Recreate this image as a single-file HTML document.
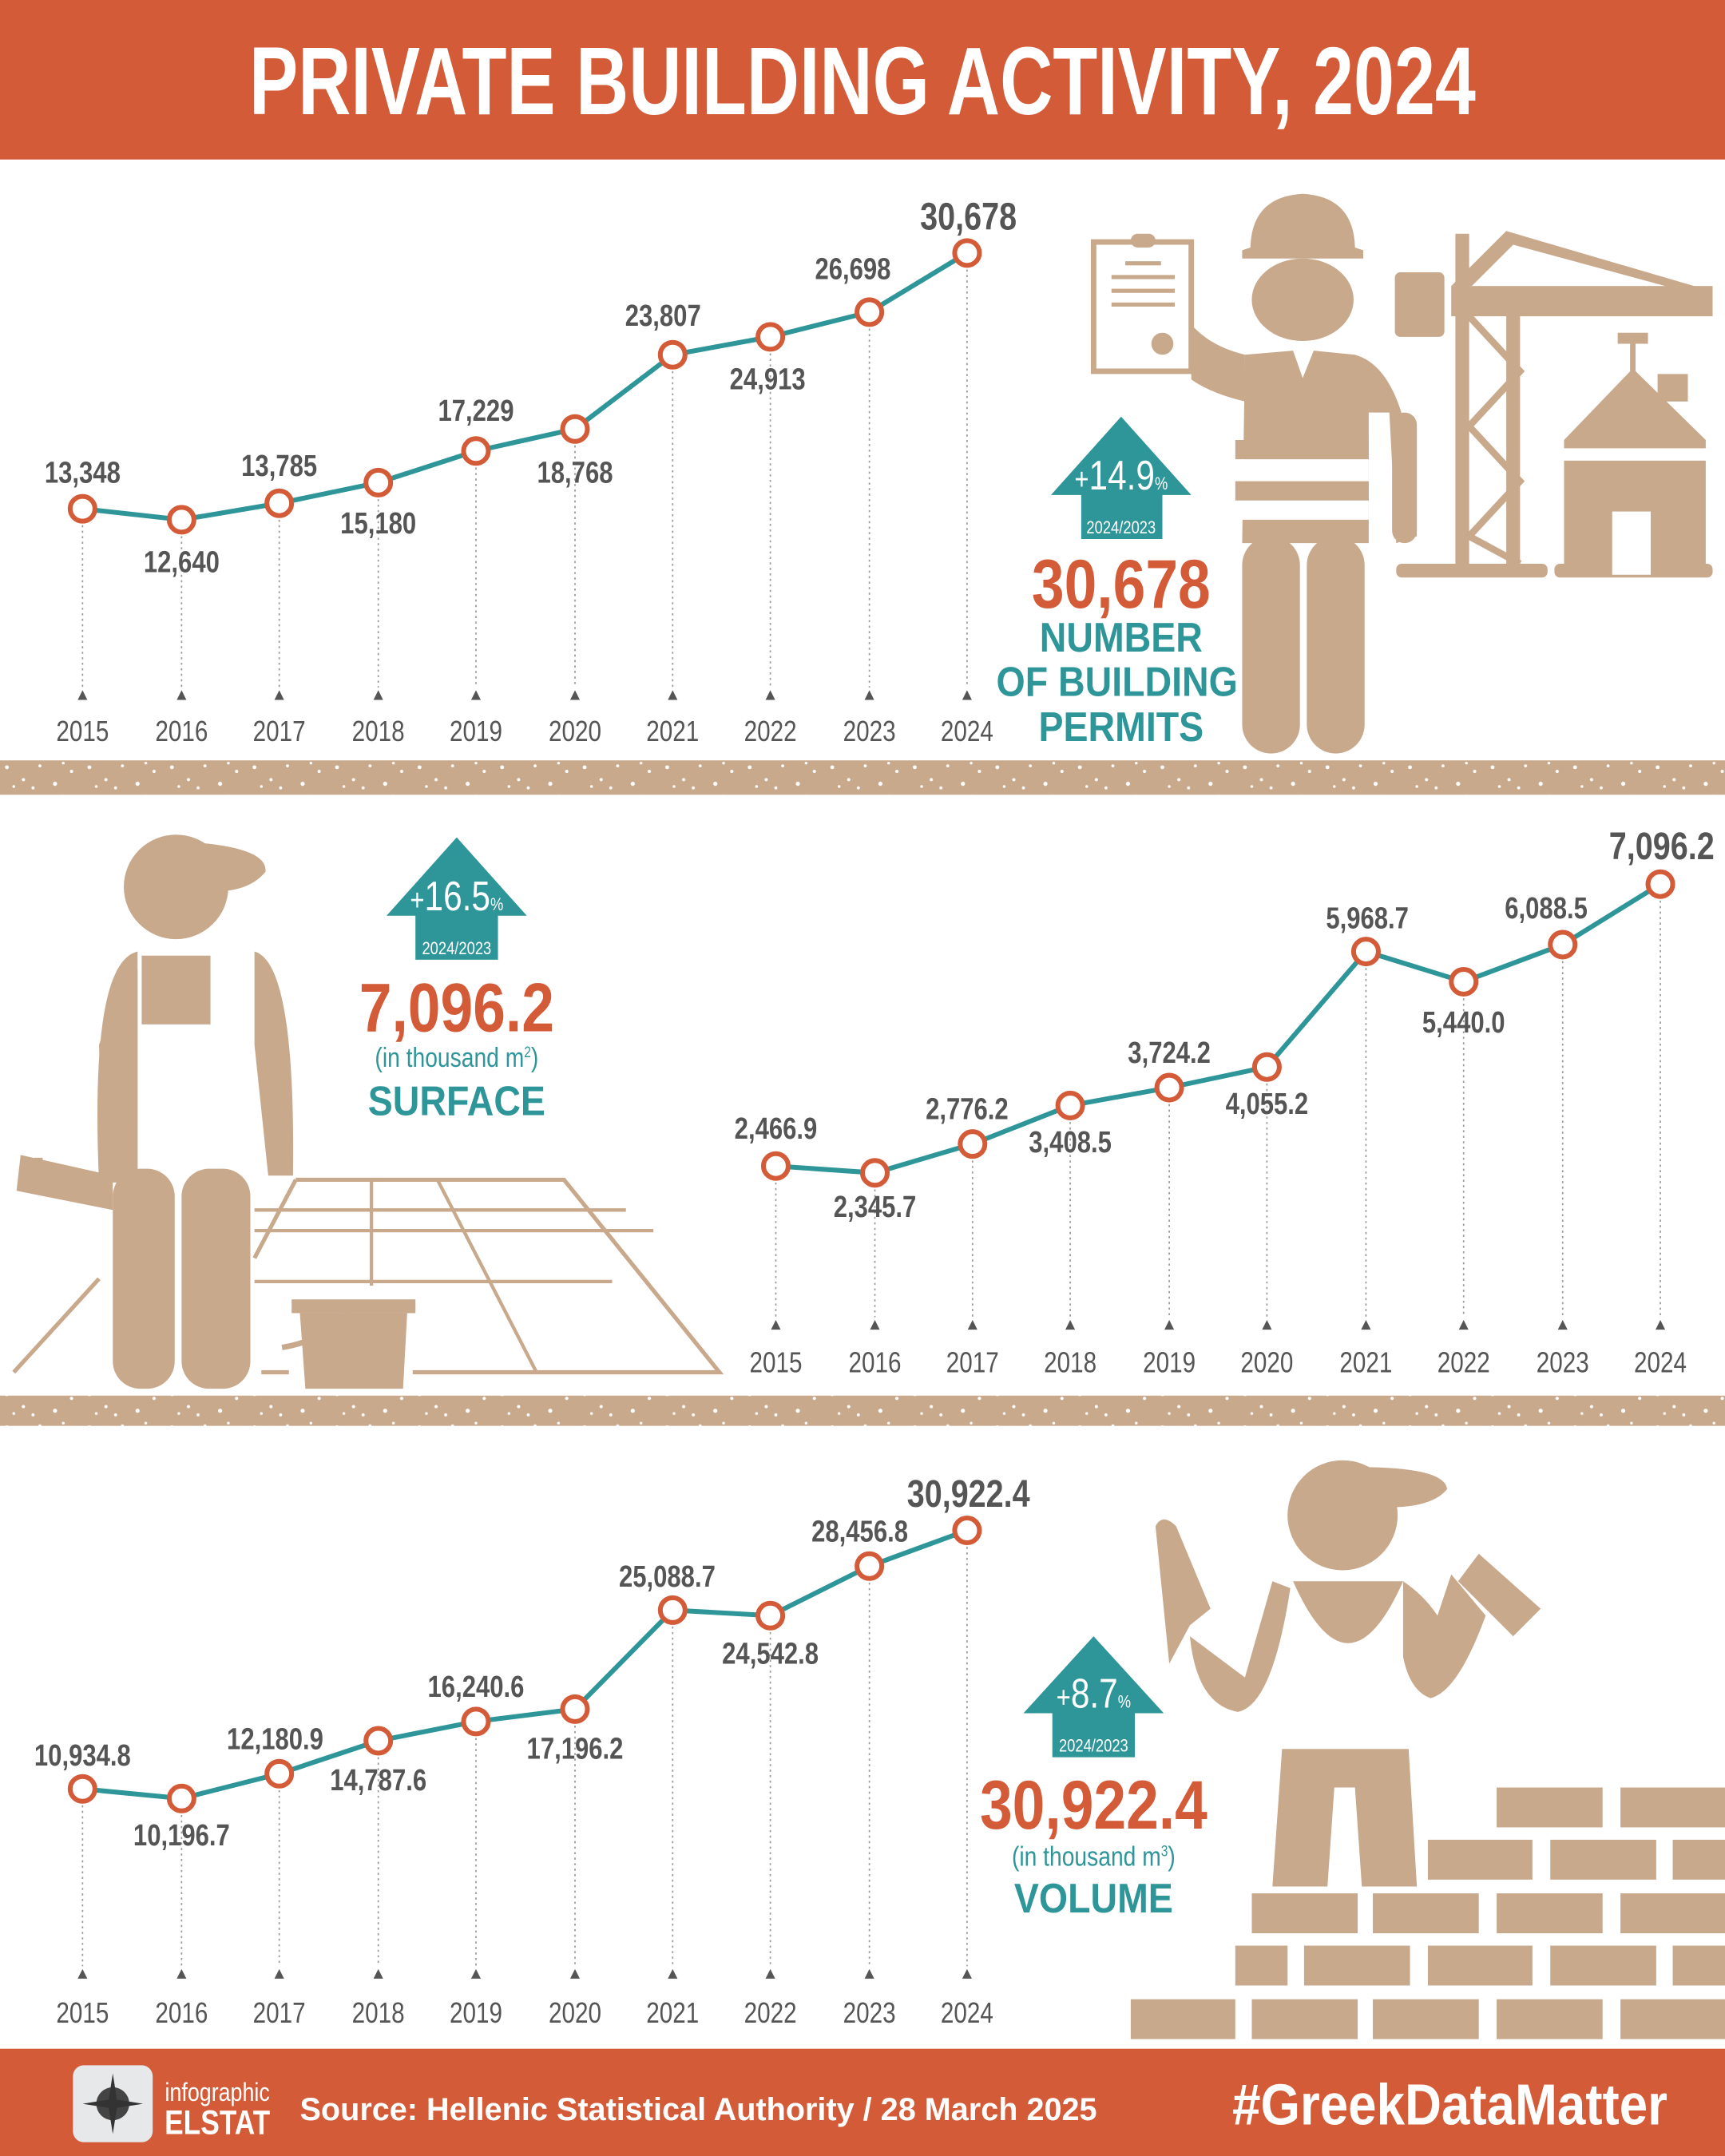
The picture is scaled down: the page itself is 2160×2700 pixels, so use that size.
<!DOCTYPE html>
<html><head><meta charset="utf-8"><style>
html,body{margin:0;padding:0;background:#fff}
svg{display:block}
.n{font-family:"Liberation Sans Narrow","Liberation Sans",sans-serif}
text{transform-box:fill-box;transform-origin:center;transform:scaleX(.82)}
text.t{transform:scaleX(.76)}
text.big{transform:scaleX(.85)}
text.f{transform:none}
text.h{transform:scaleX(.88)}
text.c{transform:scaleX(.9)}
</style></head><body>
<svg width="2160" height="2700" viewBox="0 0 1254 1568" preserveAspectRatio="none" xmlns="http://www.w3.org/2000/svg" class="n">
<defs>
<pattern id="grav" width="60" height="24" patternUnits="userSpaceOnUse">
<rect width="60" height="24" fill="#C8A98C"/>
<circle cx="5" cy="6" r="1.4" fill="#fff"/><circle cx="17" cy="15" r="1.2" fill="#fff"/>
<circle cx="29" cy="5" r="1.1" fill="#fff"/><circle cx="40" cy="18" r="1.5" fill="#fff"/>
<circle cx="52" cy="9" r="1.2" fill="#fff"/><circle cx="10" cy="20" r="1" fill="#fff"/>
<circle cx="46" cy="3" r="1" fill="#fff"/><circle cx="24" cy="21" r="1.1" fill="#fff"/>
</pattern>
</defs>
<rect x="0" y="0" width="1254" height="116" fill="#D45B38"/>
<text class="t" x="627" y="83" text-anchor="middle" font-size="70" font-weight="bold" fill="#fff">PRIVATE BUILDING ACTIVITY, 2024</text>

<rect x="0" y="553" width="1254" height="25" fill="url(#grav)"/>
<rect x="0" y="1015" width="1254" height="22" fill="url(#grav)"/>

<rect x="0" y="1490" width="1254" height="78" fill="#D45B38"/>
<rect x="53" y="1502" width="58" height="56" rx="8" fill="#E6E8EA"/>
<circle cx="82" cy="1530" r="12" fill="#444"/>
<path d="M82 1508 L85 1527 L104 1530 L85 1533 L82 1552 L79 1533 L60 1530 L79 1527Z" fill="#333"/>
<text x="158" y="1528" text-anchor="middle" font-size="19" fill="#fff">infographic</text>
<text x="158" y="1552" text-anchor="middle" font-size="25" font-weight="bold" fill="#fff">ELSTAT</text>
<text class="f" x="218" y="1542" font-size="23" font-weight="bold" fill="#fff">Source: Hellenic Statistical Authority / 28 March 2025</text>
<text class="h" x="1054" y="1545" text-anchor="middle" font-size="42" font-weight="bold" fill="#fff">#GreekDataMatter</text>

<g fill="#C8A98C">
<rect x="795" y="176" width="71" height="94" fill="none" stroke="#C8A98C" stroke-width="4"/>
<rect x="822" y="170" width="18" height="10" rx="5"/>
<rect x="808" y="200" width="46" height="3"/><rect x="808" y="210" width="46" height="3"/><rect x="808" y="220" width="46" height="3"/><rect x="818" y="190" width="26" height="3"/>
<circle cx="845" cy="250" r="8"/>
<path d="M866 236 Q880 252 905 258 L905 292 Q880 286 866 276Z"/>
<path d="M909 180 Q910 143 947 141 Q984 143 985 180 L991 182 L991 188 L903 188 L903 182Z"/>
<ellipse cx="947" cy="218" rx="37" ry="30"/>
<path d="M905 258 L940 255 L947 275 L955 255 L985 258 Q1028 270 1030 390 L1015 395 L1010 300 L995 300 L995 395 L903 395Z"/>
<rect x="1012" y="300" width="18" height="95" rx="9"/>
<rect x="903" y="390" width="42" height="158" rx="21"/>
<rect x="950" y="390" width="42" height="158" rx="21"/>
<path d="M898 320 L995 320 L995 334 L898 334Z M898 350 L995 350 L995 364 L898 364Z" fill="#C8A98C"/>
<path d="M903 334 L995 334 L995 350 L903 350Z M903 364 L995 364 L995 378 L903 378Z" fill="#fff"/>
<rect x="1014" y="198" width="36" height="47" rx="4"/>
<rect x="1055" y="208" width="190" height="22"/>
<path d="M1055 208 L1095 168 L1245 212 L1240 216 L1100 178 L1070 208Z"/>
<path d="M1058 170 L1068 170 L1068 410 L1058 410Z M1095 230 L1105 230 L1105 410 L1095 410Z"/>
<path d="M1068 230 L1105 270 L1068 310 L1105 350 L1068 390 L1105 410" fill="none" stroke="#C8A98C" stroke-width="5"/>
<rect x="1015" y="410" width="110" height="10" rx="4"/>
<rect x="1130" y="410" width="115" height="10" rx="4"/>
<rect x="1185" y="245" width="4" height="25"/><rect x="1176" y="242" width="22" height="8"/>
<path d="M1187 268 L1240 320 L1240 326 L1137 326 L1137 320Z"/>
<rect x="1205" y="272" width="22" height="20"/>
<rect x="1137" y="335" width="103" height="82"/>
<rect x="1172" y="372" width="28" height="46" fill="#fff"/>

<circle cx="128" cy="645" r="38"/>
<path d="M130 612 Q195 615 193 634 Q180 650 150 648 Q135 640 130 612Z"/>
<path d="M72 860 Q65 700 100 692 L100 860 Z"/>
<path d="M185 692 Q215 700 213 855 L195 855 L185 760Z"/>
<rect x="103" y="695" width="50" height="50"/>
<path d="M90 705 L100 705 L100 850 L75 860 L72 760Z"/>
<rect x="82" y="850" width="45" height="160" rx="20"/>
<rect x="132" y="850" width="50" height="160" rx="20"/>
<path d="M15 840 L82 855 L82 880 L12 866Z"/>
<rect x="25" y="842" width="6" height="20"/>
<path d="M215 858 L410 858 L523 998 L300 998 M10 998 L72 930 M190 998 L210 998 M215 858 L185 915" fill="none" stroke="#C8A98C" stroke-width="3"/>
<path d="M185 880 L455 880 M185 895 L475 895 M185 932 L445 932 M270 858 L270 935 M318 858 L390 998" fill="none" stroke="#C8A98C" stroke-width="2.5"/>
<rect x="212" y="945" width="90" height="10"/>
<path d="M218 955 L296 955 L293 1010 L222 1010Z"/>
<path d="M255 955 Q235 975 205 980" fill="none" stroke="#C8A98C" stroke-width="4"/>

<circle cx="976" cy="1102" r="40"/>
<path d="M980 1067 Q1050 1066 1052 1083 Q1040 1098 1000 1096Z"/>
<path d="M850 1210 L840 1110 Q845 1100 855 1110 L880 1170 L865 1182Z"/>
<path d="M865 1190 Q870 1240 900 1245 Q925 1240 938 1155 L925 1150 L905 1220Z"/>
<path d="M940 1150 L1020 1150 Q1000 1195 980 1195 Q960 1195 940 1150Z"/>
<path d="M1020 1150 Q1035 1160 1045 1175 L1055 1145 L1080 1175 Q1060 1230 1040 1235 Q1025 1230 1020 1205Z"/>
<path d="M1075 1130 L1120 1170 L1100 1190 L1060 1150Z"/>
<path d="M932 1272 L1024 1272 L1030 1372 L990 1372 L985 1300 L970 1300 L965 1372 L925 1372Z"/>
<rect x="1088" y="1300" width="77" height="29"/><rect x="1178" y="1300" width="76" height="29"/>
<rect x="1038" y="1338" width="76" height="29"/><rect x="1127" y="1338" width="77" height="29"/><rect x="1216" y="1338" width="38" height="29"/>
<rect x="910" y="1377" width="77" height="29"/><rect x="998" y="1377" width="77" height="29"/><rect x="1088" y="1377" width="77" height="29"/><rect x="1178" y="1377" width="76" height="29"/>
<rect x="898" y="1415" width="38" height="29"/><rect x="948" y="1415" width="77" height="29"/><rect x="1038" y="1415" width="76" height="29"/><rect x="1127" y="1415" width="77" height="29"/><rect x="1216" y="1415" width="38" height="29"/>
<rect x="822" y="1454" width="76" height="29"/><rect x="910" y="1454" width="77" height="29"/><rect x="998" y="1454" width="77" height="29"/><rect x="1088" y="1454" width="77" height="29"/><rect x="1178" y="1454" width="76" height="29"/>
</g>

<g fill="#2E9699">
<path d="M815 303 L866 360 L845 360 L845 392 L786 392 L786 360 L764 360Z"/>
<path d="M332 609 L383 666 L362 666 L362 698 L302 698 L302 666 L281 666Z"/>
<path d="M795 1190 L846 1246 L825 1246 L825 1278 L765 1278 L765 1246 L744 1246Z"/>
</g>
<g fill="#fff" text-anchor="middle">
<text x="815" y="356" font-size="30"><tspan font-size="22">+</tspan>14.9<tspan font-size="13">%</tspan></text>
<text x="815" y="388" font-size="13">2024/2023</text>
<text x="332" y="662" font-size="30"><tspan font-size="22">+</tspan>16.5<tspan font-size="13">%</tspan></text>
<text x="332" y="694" font-size="13">2024/2023</text>
<text x="795" y="1242" font-size="30"><tspan font-size="22">+</tspan>8.7<tspan font-size="13">%</tspan></text>
<text x="795" y="1274" font-size="13">2024/2023</text>
</g>
<g text-anchor="middle" font-weight="bold">
<text class="big" x="815" y="442" font-size="50" fill="#D45B38">30,678</text>
<text class="c" x="815" y="474" font-size="30" fill="#2E9699">NUMBER</text>
<text class="c" x="812" y="506" font-size="30" fill="#2E9699">OF BUILDING</text>
<text class="c" x="815" y="539" font-size="30" fill="#2E9699">PERMITS</text>
<text class="big" x="332" y="750" font-size="50" fill="#D45B38">7,096.2</text>
<text x="332" y="776" font-size="20" font-weight="normal" fill="#2E9699">(in thousand m<tspan font-size="11" dy="-7">2</tspan><tspan dy="7">)</tspan></text>
<text class="c" x="332" y="811" font-size="30" fill="#2E9699">SURFACE</text>
<text class="big" x="795" y="1330" font-size="50" fill="#D45B38">30,922.4</text>
<text x="795" y="1357" font-size="20" font-weight="normal" fill="#2E9699">(in thousand m<tspan font-size="11" dy="-7">3</tspan><tspan dy="7">)</tspan></text>
<text class="c" x="795" y="1391" font-size="30" fill="#2E9699">VOLUME</text>
</g>

<g stroke="#999" stroke-width="1" stroke-dasharray="1.5,2.5">
<line x1="60" y1="370" x2="60" y2="500"/><line x1="132" y1="378" x2="132" y2="500"/><line x1="203" y1="366" x2="203" y2="500"/><line x1="275" y1="351" x2="275" y2="500"/><line x1="346" y1="328" x2="346" y2="500"/><line x1="418" y1="312" x2="418" y2="500"/><line x1="489" y1="258" x2="489" y2="500"/><line x1="560" y1="245" x2="560" y2="500"/><line x1="632" y1="227" x2="632" y2="500"/><line x1="703" y1="184" x2="703" y2="500"/>
<line x1="564" y1="848" x2="564" y2="958"/><line x1="636" y1="853" x2="636" y2="958"/><line x1="707" y1="832" x2="707" y2="958"/><line x1="778" y1="804" x2="778" y2="958"/><line x1="850" y1="791" x2="850" y2="958"/><line x1="921" y1="776" x2="921" y2="958"/><line x1="993" y1="692" x2="993" y2="958"/><line x1="1064" y1="714" x2="1064" y2="958"/><line x1="1136" y1="687" x2="1136" y2="958"/><line x1="1207" y1="643" x2="1207" y2="958"/>
<line x1="60" y1="1301" x2="60" y2="1430"/><line x1="132" y1="1308" x2="132" y2="1430"/><line x1="203" y1="1290" x2="203" y2="1430"/><line x1="275" y1="1266" x2="275" y2="1430"/><line x1="346" y1="1252" x2="346" y2="1430"/><line x1="418" y1="1243" x2="418" y2="1430"/><line x1="489" y1="1171" x2="489" y2="1430"/><line x1="560" y1="1175" x2="560" y2="1430"/><line x1="632" y1="1139" x2="632" y2="1430"/><line x1="703" y1="1113" x2="703" y2="1430"/>
</g>
<g fill="#555">
<path d="M60 502 l-3.5 7 h7Z M132 502 l-3.5 7 h7Z M203 502 l-3.5 7 h7Z M275 502 l-3.5 7 h7Z M346 502 l-3.5 7 h7Z M418 502 l-3.5 7 h7Z M489 502 l-3.5 7 h7Z M560 502 l-3.5 7 h7Z M632 502 l-3.5 7 h7Z M703 502 l-3.5 7 h7Z"/>
<path d="M564 960 l-3.5 7 h7Z M636 960 l-3.5 7 h7Z M707 960 l-3.5 7 h7Z M778 960 l-3.5 7 h7Z M850 960 l-3.5 7 h7Z M921 960 l-3.5 7 h7Z M993 960 l-3.5 7 h7Z M1064 960 l-3.5 7 h7Z M1136 960 l-3.5 7 h7Z M1207 960 l-3.5 7 h7Z"/>
<path d="M60 1432 l-3.5 7 h7Z M132 1432 l-3.5 7 h7Z M203 1432 l-3.5 7 h7Z M275 1432 l-3.5 7 h7Z M346 1432 l-3.5 7 h7Z M418 1432 l-3.5 7 h7Z M489 1432 l-3.5 7 h7Z M560 1432 l-3.5 7 h7Z M632 1432 l-3.5 7 h7Z M703 1432 l-3.5 7 h7Z"/>
</g>
<g fill="#555" font-size="21" text-anchor="middle">
<text x="60" y="539">2015</text><text x="132" y="539">2016</text><text x="203" y="539">2017</text><text x="275" y="539">2018</text><text x="346" y="539">2019</text><text x="418" y="539">2020</text><text x="489" y="539">2021</text><text x="560" y="539">2022</text><text x="632" y="539">2023</text><text x="703" y="539">2024</text>
<text x="564" y="998">2015</text><text x="636" y="998">2016</text><text x="707" y="998">2017</text><text x="778" y="998">2018</text><text x="850" y="998">2019</text><text x="921" y="998">2020</text><text x="993" y="998">2021</text><text x="1064" y="998">2022</text><text x="1136" y="998">2023</text><text x="1207" y="998">2024</text>
<text x="60" y="1471">2015</text><text x="132" y="1471">2016</text><text x="203" y="1471">2017</text><text x="275" y="1471">2018</text><text x="346" y="1471">2019</text><text x="418" y="1471">2020</text><text x="489" y="1471">2021</text><text x="560" y="1471">2022</text><text x="632" y="1471">2023</text><text x="703" y="1471">2024</text>
</g>
<g fill="none" stroke="#2E9699" stroke-width="3.5" stroke-linejoin="round">
<polyline points="60,370 132,378 203,366 275,351 346,328 418,312 489,258 560,245 632,227 703,184"/>
<polyline points="564,848 636,853 707,832 778,804 850,791 921,776 993,692 1064,714 1136,687 1207,643"/>
<polyline points="60,1301 132,1308 203,1290 275,1266 346,1252 418,1243 489,1171 560,1175 632,1139 703,1113"/>
</g>
<g fill="#fff" stroke="#D45B38" stroke-width="3.5">
<circle cx="60" cy="370" r="9"/><circle cx="132" cy="378" r="9"/><circle cx="203" cy="366" r="9"/><circle cx="275" cy="351" r="9"/><circle cx="346" cy="328" r="9"/><circle cx="418" cy="312" r="9"/><circle cx="489" cy="258" r="9"/><circle cx="560" cy="245" r="9"/><circle cx="632" cy="227" r="9"/><circle cx="703" cy="184" r="9"/>
<circle cx="564" cy="848" r="9"/><circle cx="636" cy="853" r="9"/><circle cx="707" cy="832" r="9"/><circle cx="778" cy="804" r="9"/><circle cx="850" cy="791" r="9"/><circle cx="921" cy="776" r="9"/><circle cx="993" cy="692" r="9"/><circle cx="1064" cy="714" r="9"/><circle cx="1136" cy="687" r="9"/><circle cx="1207" cy="643" r="9"/>
<circle cx="60" cy="1301" r="9"/><circle cx="132" cy="1308" r="9"/><circle cx="203" cy="1290" r="9"/><circle cx="275" cy="1266" r="9"/><circle cx="346" cy="1252" r="9"/><circle cx="418" cy="1243" r="9"/><circle cx="489" cy="1171" r="9"/><circle cx="560" cy="1175" r="9"/><circle cx="632" cy="1139" r="9"/><circle cx="703" cy="1113" r="9"/>
</g>
<g fill="#555" font-size="22" font-weight="bold" text-anchor="middle">
<text x="60" y="351">13,348</text><text x="132" y="416">12,640</text><text x="203" y="346">13,785</text><text x="275" y="388">15,180</text><text x="346" y="306">17,229</text><text x="418" y="351">18,768</text><text x="482" y="237">23,807</text><text x="558" y="283">24,913</text><text x="620" y="203">26,698</text>
<text x="704" y="167" font-size="28">30,678</text>
<text x="564" y="828">2,466.9</text><text x="636" y="885">2,345.7</text><text x="703" y="814">2,776.2</text><text x="778" y="838">3,408.5</text><text x="850" y="773">3,724.2</text><text x="921" y="810">4,055.2</text><text x="994" y="675">5,968.7</text><text x="1064" y="751">5,440.0</text><text x="1124" y="668">6,088.5</text>
<text x="1208" y="625" font-size="28">7,096.2</text>
<text x="60" y="1284">10,934.8</text><text x="132" y="1342">10,196.7</text><text x="200" y="1272">12,180.9</text><text x="275" y="1302">14,787.6</text><text x="346" y="1234">16,240.6</text><text x="418" y="1279">17,196.2</text><text x="485" y="1154">25,088.7</text><text x="560" y="1210">24,542.8</text><text x="625" y="1121">28,456.8</text>
<text x="704" y="1096" font-size="28">30,922.4</text>
</g>
</svg>
</body></html>
